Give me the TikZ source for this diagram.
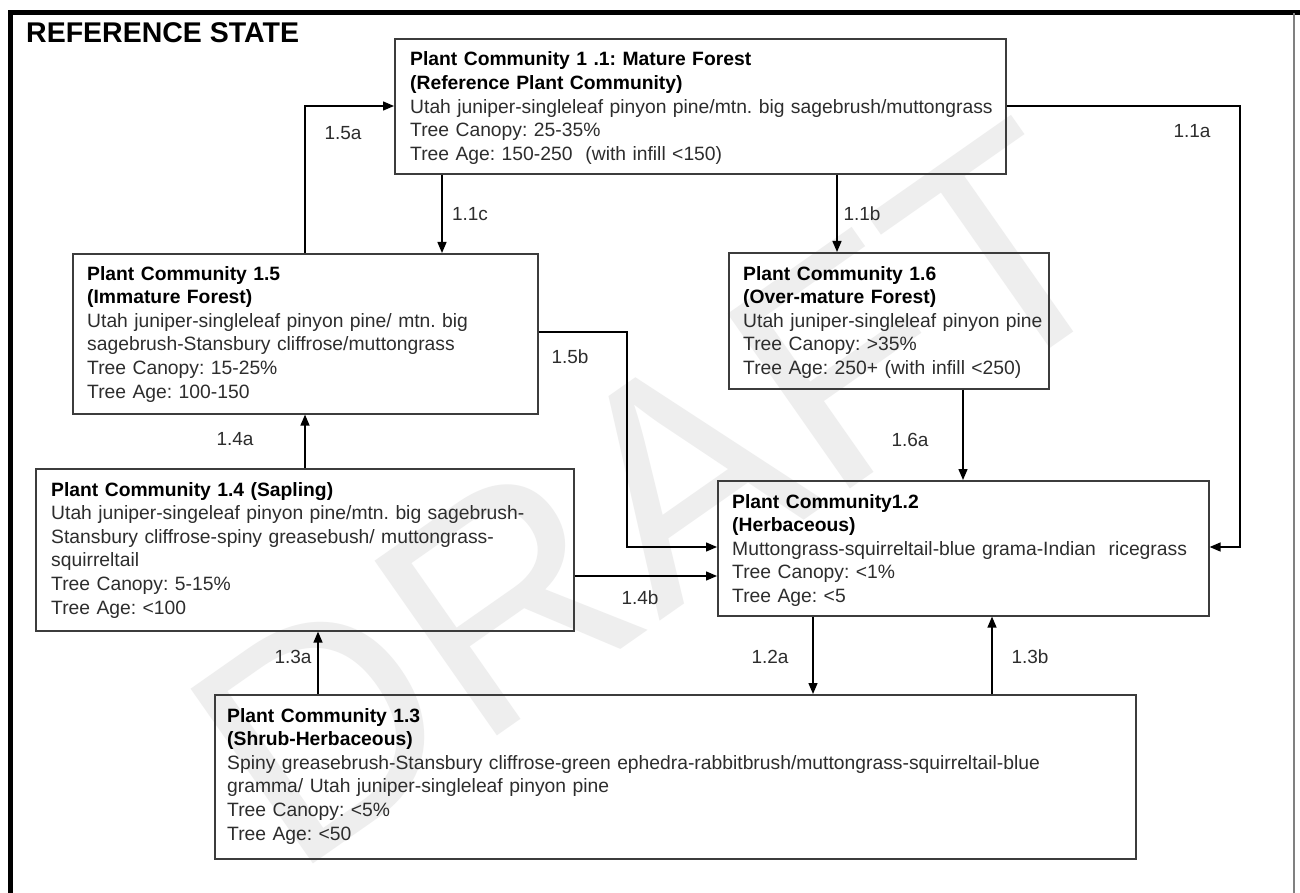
\documentclass[tikz,border=0pt]{standalone}
\usepackage{fontspec}
\setmainfont{Liberation Sans}
\usetikzlibrary{arrows.meta,calc}
\definecolor{bordergray}{RGB}{60,60,60}
\definecolor{txtgray}{RGB}{45,45,45}
\definecolor{wmgray}{RGB}{238,238,238}
\newcommand{\pchead}[1]{{\color{black}\bfseries #1}}
\begin{document}
\frenchspacing
\begin{tikzpicture}[x=1pt,y=-1pt,
  box/.style={draw=bordergray, line width=1.6pt, rectangle, inner sep=0pt, anchor=north west},
  txt/.style={anchor=base west, inner sep=0pt, align=left, text width=#1, font=\fontsize{19.3}{23.6}\selectfont\frenchspacing, text=txtgray},
  lbl/.style={font=\fontsize{19}{22}\selectfont, text=txtgray, inner sep=0pt},
  arr/.style={draw=black, line width=1.4pt, -{Triangle[length=11pt,width=9pt]}},
]
\useasboundingbox (0,0) rectangle (1300,893);
\fill[white] (0,0) rectangle (1300,893);

% watermark
\node[rotate=35, text=wmgray, font=\fontsize{310}{310}\selectfont] (draft) at (655,495) {DRAFT};

% frame
\draw[line width=5pt] (10,893) -- (10,13) -- (1300,13);
\draw[gray, line width=1.2pt] (1294,13) -- (1294,893);

\node[anchor=west, inner sep=0pt, font=\fontsize{28.5}{30}\selectfont\bfseries] (title) at (26,33) {REFERENCE STATE};

% boxes
\node[box, minimum width=611, minimum height=135] (b11) at (394,38) {};
\node[box, minimum width=465, minimum height=160] (b15) at (72,253) {};
\node[box, minimum width=320, minimum height=136] (b16) at (728,252) {};
\node[box, minimum width=538, minimum height=162] (b14) at (35,468) {};
\node[box, minimum width=491, minimum height=135] (b12) at (717,480) {};
\node[box, minimum width=921, minimum height=164] (b13) at (214,694) {};

% texts
\node[txt=650pt] (t11) at (410,66) {\pchead{Plant Community 1 .1: Mature Forest}\\
\pchead{(Reference Plant Community)}\\
Utah juniper-singleleaf pinyon pine/mtn. big sagebrush/muttongrass\\
Tree Canopy: 25-35\%\\
Tree Age: 150-250~ (with infill <150)};

\node[txt=445pt] (t15) at (87,280) {\pchead{Plant Community 1.5}\\
\pchead{(Immature Forest)}\\
Utah juniper-singleleaf pinyon pine/ mtn. big\\
sagebrush-Stansbury cliffrose/muttongrass\\
Tree Canopy: 15-25\%\\
Tree Age: 100-150};

\node[txt=310pt] (t16) at (743,280) {\pchead{Plant Community 1.6}\\
\pchead{(Over-mature Forest)}\\
Utah juniper-singleleaf pinyon pine\\
Tree Canopy: >35\%\\
Tree Age: 250+ (with infill <250)};

\node[txt=520pt] (t14) at (51,496) {\pchead{Plant Community 1.4 (Sapling)}\\
Utah juniper-singeleaf pinyon pine/mtn. big sagebrush-\\
Stansbury cliffrose-spiny greasebush/ muttongrass-\\
squirreltail\\
Tree Canopy: 5-15\%\\
Tree Age: <100};

\node[txt=475pt] (t12) at (732,508) {\pchead{Plant Community1.2}\\
\pchead{(Herbaceous)}\\
Muttongrass-squirreltail-blue grama-Indian~ ricegrass\\
Tree Canopy: <1\%\\
Tree Age: <5};

\node[txt=905pt] (t13) at (227,722) {\pchead{Plant Community 1.3}\\
\pchead{(Shrub-Herbaceous)}\\
Spiny greasebrush-Stansbury cliffrose-green ephedra-rabbitbrush/muttongrass-squirreltail-blue\\
gramma/ Utah juniper-singleleaf pinyon pine\\
Tree Canopy: <5\%\\
Tree Age: <50};

% routing coordinates
\coordinate (p15a) at (305,106);
\coordinate (p11a) at (1240,106);
\coordinate (q11a) at (1240,547);
\coordinate (p15b) at (627,332);
\coordinate (q15b) at (627,547);
\coordinate (x11c) at (442,0);
\coordinate (x11b) at (837,0);
\coordinate (x16a) at (963,0);
\coordinate (x14a) at (305,0);
\coordinate (y14b) at (0,576);
\coordinate (x13a) at (318,0);
\coordinate (x12a) at (813,0);
\coordinate (x13b) at (992,0);

% connectors
\draw[arr] (b15.north -| p15a) -- (p15a) -- (b11.west |- p15a);
\draw[arr] (b11.east |- p11a) -- (p11a) -- (q11a) -- (b12.east |- q11a);
\draw[arr] (b11.south -| x11c) -- (b15.north -| x11c);
\draw[arr] (b11.south -| x11b) -- (b16.north -| x11b);
\draw[arr] (b15.east |- p15b) -- (p15b) -- (q15b) -- (b12.west |- q15b);
\draw[arr] (b16.south -| x16a) -- (b12.north -| x16a);
\draw[arr] (b14.north -| x14a) -- (b15.south -| x14a);
\draw[arr] (b14.east |- y14b) -- (b12.west |- y14b);
\draw[arr] (b13.north -| x13a) -- (b14.south -| x13a);
\draw[arr] (b12.south -| x12a) -- (b13.north -| x12a);
\draw[arr] (b13.north -| x13b) -- (b12.south -| x13b);

% labels
\node[lbl] (l15a) at (343,133) {1.5a};
\node[lbl] (l11a) at (1192,131) {1.1a};
\node[lbl] (l11c) at (470,214) {1.1c};
\node[lbl] (l11b) at (862,214) {1.1b};
\node[lbl] (l15b) at (570,357) {1.5b};
\node[lbl] (l16a) at (910,440) {1.6a};
\node[lbl] (l14a) at (235,439) {1.4a};
\node[lbl] (l14b) at (640,598) {1.4b};
\node[lbl] (l13a) at (293,657) {1.3a};
\node[lbl] (l12a) at (770,657) {1.2a};
\node[lbl] (l13b) at (1030,657) {1.3b};
\end{tikzpicture}
\end{document}
